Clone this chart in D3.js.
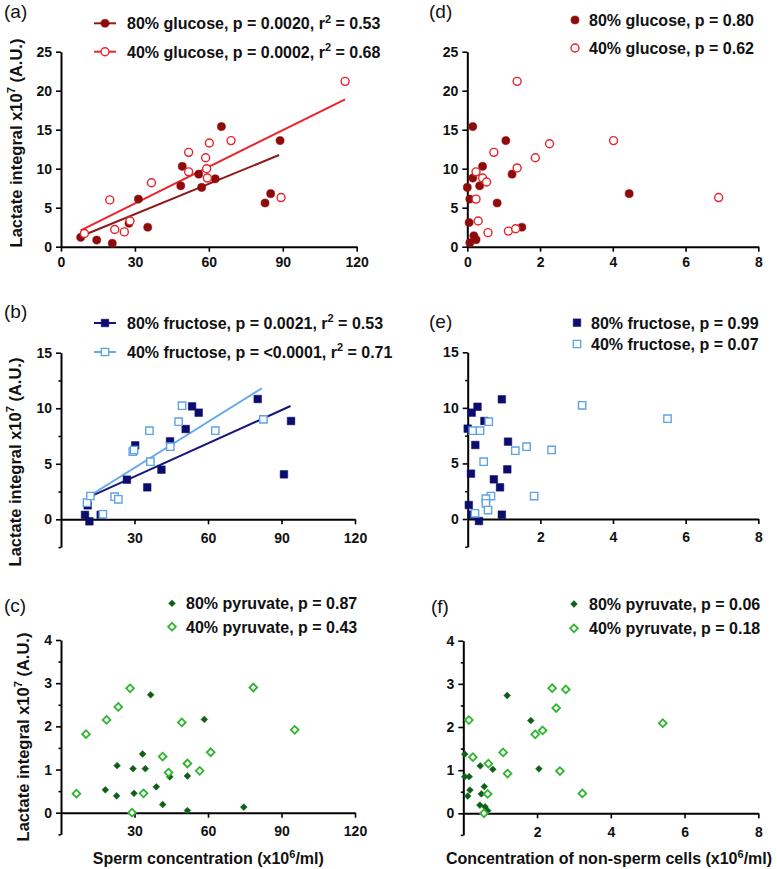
<!DOCTYPE html>
<html><head><meta charset="utf-8">
<script src="https://cdn.jsdelivr.net/npm/d3@7/dist/d3.min.js"></script>
<style>body{margin:0;background:#fff} svg{display:block}</style>
</head><body>
<svg id="chart" width="777" height="869"></svg>
<script>
// ---------- data (x, lactate integral x10^7) ----------
const glucoseSperm80 = [[8.0,1.2],[14.5,0.85],[20.8,0.43],[27.6,3.0],[31.4,6.1],[35.2,2.5],[48.6,7.8],[49.2,10.3],[55.9,9.3],[57.1,7.6],[62.6,8.7],[65.1,15.4],[82.8,5.6],[85.1,6.8],[88.9,13.6]];
const glucoseSperm40 = [[9.5,1.7],[19.8,6.0],[21.8,2.2],[25.7,1.9],[28.0,3.3],[36.7,8.2],[51.8,12.1],[51.8,9.6],[58.7,11.4],[59.1,10.0],[59.4,8.8],[60.2,13.3],[69.0,13.6],[89.3,6.3],[115.3,21.2]];
const glucoseFit80 = [[10.1,1.6],[88.5,11.75]];
const glucoseFit40 = [[8.0,2.1],[115.3,18.9]];
const glucoseNonSperm80 = [[0.15,15.4],[1.06,13.6],[0.42,10.3],[1.23,9.3],[0.15,8.8],[0.0,7.6],[0.34,7.8],[0.07,6.1],[0.82,5.6],[4.45,6.8],[0.05,3.1],[1.5,2.5],[0.18,1.4],[0.24,0.9],[0.07,0.5]];
const glucoseNonSperm40 = [[1.37,21.2],[4.02,13.6],[2.26,13.2],[0.73,12.1],[1.87,11.4],[1.37,10.1],[0.24,9.6],[0.42,8.8],[0.53,8.3],[0.24,6.1],[6.91,6.3],[0.30,3.3],[0.57,1.8],[1.13,2.0],[1.33,2.3]];

const fructoseSperm80 = [[9.8,0.4],[10.9,1.26],[11.6,-0.18],[16.2,0.4],[26.9,3.57],[30.3,6.66],[35.2,2.88],[41.0,4.47],[44.5,7.02],[50.9,8.13],[53.5,10.17],[56.2,9.6],[80.3,10.83],[91.0,4.05],[93.9,8.85]];
const fructoseSperm40 = [[10.6,1.5],[12.0,2.1],[17.1,0.45],[21.9,2.04],[23.4,1.8],[29.3,6.09],[29.8,6.24],[36.1,7.98],[36.5,5.19],[44.6,6.54],[48.0,8.79],[49.4,10.23],[63.0,7.98],[82.6,9.0]];
const fructoseFit80 = [[11.2,1.98],[93.7,10.2]];
const fructoseFit40 = [[11.6,2.1],[82.0,11.8]];
const fructoseNonSperm80 = [[0.27,10.1],[0.11,9.57],[0.94,10.77],[0.46,8.82],[0.0,8.13],[0.21,6.66],[1.11,6.96],[0.09,4.08],[1.09,4.47],[0.72,3.57],[0.89,2.85],[0.03,1.26],[0.11,0.39],[0.94,0.39],[0.31,-0.18]];
const fructoseNonSperm40 = [[3.15,10.23],[5.5,9.03],[0.58,8.76],[0.14,7.95],[0.34,7.95],[1.62,6.51],[1.31,6.15],[2.31,6.21],[0.44,5.16],[0.64,2.07],[1.83,2.07],[0.5,1.83],[0.5,1.41],[0.56,0.81],[0.20,0.51]];

const pyruvateSperm80 = [[18.1,0.53],[22.9,1.09],[22.7,0.39],[29.4,1.02],[29.8,0.45],[33.3,1.36],[34.4,1.02],[36.6,2.73],[38.9,0.60],[41.5,0.19],[44.4,0.83],[51.6,0.85],[51.6,0.05],[58.5,2.16],[74.6,0.13]];
const pyruvateSperm40 = [[6.3,0.44],[10.2,1.82],[18.6,2.15],[23.4,2.45],[28.2,2.88],[29.0,0.0],[33.7,0.45],[41.5,1.30],[43.9,0.93],[49.3,2.09],[51.6,1.14],[56.6,0.97],[61.1,1.40],[78.5,2.90],[95.4,1.92]];
const pyruvateNonSperm80 = [[0.04,1.37],[0.04,0.85],[0.16,0.85],[0.18,0.54],[0.12,0.40],[0.46,1.10],[0.49,0.45],[0.57,0.62],[0.45,0.19],[0.59,0.15],[0.66,0.06],[0.80,1.02],[1.19,2.73],[1.83,2.15],[2.05,1.03]];
const pyruvateNonSperm40 = [[0.15,2.16],[0.26,1.30],[0.66,0.45],[0.68,1.15],[0.56,0.0],[1.08,1.41],[1.20,0.92],[1.95,1.83],[2.15,1.92],[2.41,2.90],[2.52,2.44],[2.78,2.87],[2.62,0.98],[3.23,0.46],[5.41,2.09]];

// ---------- ticks ----------
const xTicksSpermA = [0,30,60,90,120];
const xTicksSperm = [30,60,90,120];
const xTicksNonSpermD = [0,2,4,6,8];
const xTicksNonSperm = [2,4,6,8];
const yTicksGlucose = [0,5,10,15,20,25];
const yTicksFructose = [0,5,10,15];
const yMinorFructose = [-2.5,2.5,7.5,12.5];
const yTicksPyruvate = [0,1,2,3,4];
const yMinorPyruvate = [-0.5,0.5,1.5,2.5,3.5];

// ---------- legend labels ([text, superscript, text]) ----------
const legendA = [["80% glucose, p = 0.0020, r","2"," = 0.53"],["40% glucose, p = 0.0002, r","2"," = 0.68"]];
const legendB = [["80% fructose, p = 0.0021, r","2"," = 0.53"],["40% fructose, p = <0.0001, r","2"," = 0.71"]];
const legendC = [["80% pyruvate, p = 0.87"],["40% pyruvate, p = 0.43"]];
const legendD = [["80% glucose, p = 0.80"],["40% glucose, p = 0.62"]];
const legendE = [["80% fructose, p = 0.99"],["40% fructose, p = 0.07"]];
const legendF = [["80% pyruvate, p = 0.06"],["40% pyruvate, p = 0.18"]];

const C = {
  g80:'#8e0b0b', g40:'#e5232a', g80line:'#8e1a1a', g40line:'#e8262b',
  f80:'#0c0c6e', f40:'#5ea3e6', f80line:'#17177a', f40line:'#64a9ea',
  p80:'#0f5f16', p40:'#2eb52e'
};
const FONT = '"Liberation Sans", Arial, Helvetica, sans-serif';
const svg = d3.select('#chart').style('font-family', FONT);

function symbolPath(shape, filled) {
  if (shape === 'circle') return d3.symbol(d3.symbolCircle, filled ? 52 : 50)();
  if (shape === 'square') return d3.symbol(d3.symbolSquare, filled ? 58 : 54)();
  return d3.symbol(d3.symbolSquare, filled ? 23 : 30)(); // rotated later -> diamond
}
function drawMarkers(g, pts, x, y, shape, filled, color) {
  const rot = shape === 'diamond' ? ' rotate(45)' : '';
  g.selectAll(null).data(pts).enter().append('path')
    .attr('d', symbolPath(shape, filled))
    .attr('transform', d => `translate(${x(d[0])},${y(d[1])})${rot}`)
    .attr('fill', filled ? color : '#fff')
    .attr('stroke', color)
    .attr('stroke-width', filled ? 0.5 : (shape === 'diamond' ? 1.8 : 1.4));
}

function panel(cfg) {
  const g = svg.append('g');
  const x = d3.scaleLinear().domain(cfg.xDomain).range([cfg.x0, cfg.x1]);
  const y = d3.scaleLinear().domain(cfg.yDomain).range([cfg.yB, cfg.yT]);

  // y axis
  const ya = g.append('g').attr('transform', `translate(${cfg.x0},0)`)
    .call(d3.axisLeft(y).tickValues(cfg.yTicks).tickSize(5).tickSizeOuter(0).tickPadding(4).tickFormat(d3.format('d')));
  if (cfg.yMinor) {
    g.append('g').attr('transform', `translate(${cfg.x0},0)`)
      .call(d3.axisLeft(y).tickValues(cfg.yMinor).tickSize(2.5).tickSizeOuter(0).tickFormat(''))
      .call(s => s.select('.domain').remove());
  }
  // x axis at y = 0
  const xa = g.append('g').attr('transform', `translate(0,${y(0)})`)
    .call(d3.axisBottom(x).tickValues(cfg.xTicks).tickSize(5).tickSizeOuter(0).tickFormat(d3.format('d')));
  xa.selectAll('text').attr('y', cfg.xLabelOffset).attr('dy', null);
  g.selectAll('.domain').attr('stroke', '#000').attr('stroke-width', 2);
  g.selectAll('.tick line').attr('stroke', '#000').attr('stroke-width', 1.6);
  g.selectAll('.tick text').attr('fill', '#111').style('font-family', FONT)
    .style('font-size', '14px').style('font-weight', 'bold');

  // fit lines
  const line = d3.line().x(d => x(d[0])).y(d => y(d[1]));
  (cfg.fits || []).forEach(f => {
    g.append('path').datum(f.data).attr('d', line).attr('fill', 'none')
      .attr('stroke', f.color).attr('stroke-width', 2);
  });
  // markers
  cfg.series.forEach(s => drawMarkers(g, s.data, x, y, cfg.shape, s.filled, s.color));

  // panel label
  g.append('text').attr('x', cfg.label[1]).attr('y', cfg.label[2])
    .style('font-size', '19px').attr('fill', '#111').text(cfg.label[0]);

  // legend
  cfg.legend.rows.forEach((row, i) => {
    const ly = cfg.legend.ys[i];
    const s = cfg.series[i];
    if (cfg.legend.line) {
      g.append('line').attr('x1', cfg.legend.lx[0]).attr('x2', cfg.legend.lx[1])
        .attr('y1', ly).attr('y2', ly).attr('stroke', s.lineColor).attr('stroke-width', 2);
    }
    const rot = cfg.shape === 'diamond' ? ' rotate(45)' : '';
    g.append('path').attr('d', symbolPath(cfg.shape, s.filled))
      .attr('transform', `translate(${cfg.legend.mx},${ly})${rot}`)
      .attr('fill', s.filled ? s.color : '#fff').attr('stroke', s.color)
      .attr('stroke-width', s.filled ? 0.5 : (cfg.shape === 'diamond' ? 1.8 : 1.4));
    const t = g.append('text').attr('x', cfg.legend.tx).attr('y', ly + 5.8)
      .style('font-size', '16px').style('font-weight', 'bold').attr('fill', '#111');
    t.append('tspan').text(row[0]);
    if (row.length > 1) {
      t.append('tspan').attr('dy', -6.5).style('font-size', '11px').text(row[1]);
      t.append('tspan').attr('dy', 6.5).text(row[2]);
    }
  });

  // y title
  if (cfg.yTitle) {
    const t = g.append('text')
      .attr('transform', `translate(${cfg.yTitle[0]},${cfg.yTitle[1]}) rotate(-90)`)
      .attr('text-anchor', 'middle').style('font-size', '16.5px').style('font-weight', 'bold').attr('fill', '#111');
    t.append('tspan').text('Lactate integral x10');
    t.append('tspan').attr('dy', -6.5).style('font-size', '11px').text('7');
    t.append('tspan').attr('dy', 6.5).text(' (A.U.)');
  }
  // x title
  if (cfg.xTitle) {
    const t = g.append('text').attr('x', cfg.xTitle[1]).attr('y', cfg.xTitle[2])
      .attr('text-anchor', 'middle').style('font-size', '16px').style('font-weight', 'bold').attr('fill', '#111');
    t.append('tspan').text(cfg.xTitle[0] + ' (x10');
    t.append('tspan').attr('dy', -6.5).style('font-size', '11px').text('6');
    t.append('tspan').attr('dy', 6.5).text('/ml)');
  }
}

// (a)
panel({ xDomain:[0,120], yDomain:[0,25], x0:61, x1:356.7, yB:246.7, yT:51.7,
  xTicks:xTicksSpermA, yTicks:yTicksGlucose, xLabelOffset:20, shape:'circle',
  series:[{data:glucoseSperm80, filled:true, color:C.g80, lineColor:C.g80line},
          {data:glucoseSperm40, filled:false, color:C.g40, lineColor:C.g40line}],
  fits:[{data:glucoseFit80, color:C.g80line},{data:glucoseFit40, color:C.g40line}],
  label:['(a)',4,17.5],
  legend:{rows:legendA, ys:[23.3,51.7], line:true, lx:[94,116], mx:105, tx:127},
  yTitle:[21.5,143] });
// (d)
panel({ xDomain:[0,8], yDomain:[0,25], x0:467.3, x1:758.3, yB:246.7, yT:51.7,
  xTicks:xTicksNonSpermD, yTicks:yTicksGlucose, xLabelOffset:20, shape:'circle',
  series:[{data:glucoseNonSperm80, filled:true, color:C.g80},
          {data:glucoseNonSperm40, filled:false, color:C.g40}],
  label:['(d)',429,17.5],
  legend:{rows:legendD, ys:[20,48], line:false, mx:575, tx:589} });
// (b)
panel({ xDomain:[0,120], yDomain:[-2.5,15], x0:61, x1:355, yB:547.1, yT:352.7,
  xTicks:xTicksSperm, yTicks:yTicksFructose, yMinor:yMinorFructose, xLabelOffset:24, shape:'square',
  series:[{data:fructoseSperm80, filled:true, color:C.f80, lineColor:C.f80line},
          {data:fructoseSperm40, filled:false, color:C.f40, lineColor:C.f40line}],
  fits:[{data:fructoseFit80, color:C.f80line},{data:fructoseFit40, color:C.f40line}],
  label:['(b)',4,318],
  legend:{rows:legendB, ys:[323,352], line:true, lx:[94,116], mx:105, tx:127},
  yTitle:[20.5,462] });
// (e)
panel({ xDomain:[0,8], yDomain:[-2.5,15], x0:467.7, x1:758.3, yB:546.8, yT:352.3,
  xTicks:xTicksNonSperm, yTicks:yTicksFructose, yMinor:yMinorFructose, xLabelOffset:22.7, shape:'square',
  series:[{data:fructoseNonSperm80, filled:true, color:C.f80},
          {data:fructoseNonSperm40, filled:false, color:C.f40}],
  label:['(e)',429,327.6],
  legend:{rows:legendE, ys:[322.7,344], line:false, mx:577, tx:591} });
// (c)
panel({ xDomain:[0,120], yDomain:[-0.5,4], x0:61, x1:355, yB:834.3, yT:640,
  xTicks:xTicksSperm, yTicks:yTicksPyruvate, yMinor:yMinorPyruvate, xLabelOffset:23, shape:'diamond',
  series:[{data:pyruvateSperm80, filled:true, color:C.p80},
          {data:pyruvateSperm40, filled:false, color:C.p40}],
  label:['(c)',4,611.6],
  legend:{rows:legendC, ys:[603.3,626.7], line:false, mx:172, tx:186},
  yTitle:[28.5,737], xTitle:['Sperm concentration',208.3,864] });
// (f)
panel({ xDomain:[0,8], yDomain:[-0.5,4], x0:463.3, x1:758.3, yB:834.9, yT:640.7,
  xTicks:xTicksNonSperm, yTicks:yTicksPyruvate, yMinor:yMinorPyruvate, xLabelOffset:23.3, shape:'diamond',
  series:[{data:pyruvateNonSperm80, filled:true, color:C.p80},
          {data:pyruvateNonSperm40, filled:false, color:C.p40}],
  label:['(f)',431,613],
  legend:{rows:legendF, ys:[604,628.3], line:false, mx:574, tx:589},
  xTitle:['Concentration of non-sperm cells',609,864] });
</script>
</body></html>
